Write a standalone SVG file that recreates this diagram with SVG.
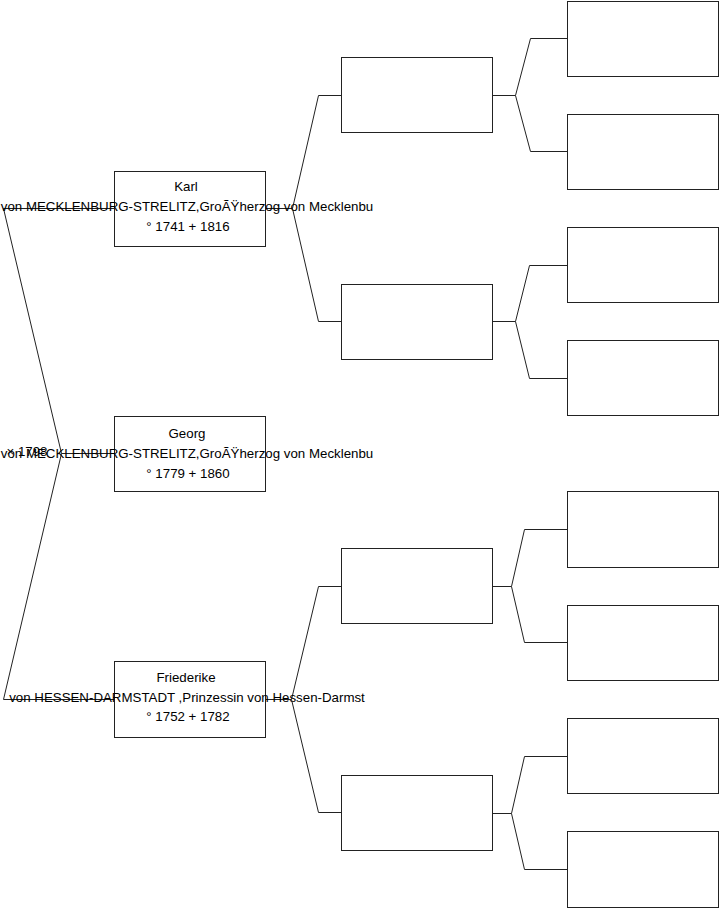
<svg xmlns="http://www.w3.org/2000/svg" width="719" height="908" viewBox="0 0 719 908">
<style>
rect.b{fill:#fff;stroke:#222;stroke-width:1}
.c path{fill:none;stroke:#222;stroke-width:1}
text{font-family:"Liberation Sans",Arial,sans-serif;font-size:13.3px;fill:#000;text-anchor:middle}
</style>
<rect width="719" height="908" fill="#fff"/>
<g id="nodes-back">
<g id="n-karl"><rect class="b" x="114.5" y="171.5" width="151" height="75"/></g>
<g id="n-georg"><rect class="b" x="114.5" y="416.5" width="151" height="75"/></g>
<g id="n-friederike"><rect class="b" x="114.5" y="661.5" width="151" height="76"/></g>
<g id="n-2a"><rect class="b" x="341.5" y="57.5" width="151" height="75"/></g>
<g id="n-2b"><rect class="b" x="341.5" y="284.5" width="151" height="75"/></g>
<g id="n-2c"><rect class="b" x="341.5" y="548.5" width="151" height="75"/></g>
<g id="n-2d"><rect class="b" x="341.5" y="775.5" width="151" height="75"/></g>
<g id="n-3a"><rect class="b" x="567.5" y="1.5" width="151" height="75"/></g>
<g id="n-3b"><rect class="b" x="567.5" y="114.5" width="151" height="75"/></g>
<g id="n-3c"><rect class="b" x="567.5" y="227.5" width="151" height="75"/></g>
<g id="n-3d"><rect class="b" x="567.5" y="340.5" width="151" height="75"/></g>
<g id="n-3e"><rect class="b" x="567.5" y="491.5" width="151" height="76"/></g>
<g id="n-3f"><rect class="b" x="567.5" y="605.5" width="151" height="75"/></g>
<g id="n-3g"><rect class="b" x="567.5" y="718.5" width="151" height="75"/></g>
<g id="n-3h"><rect class="b" x="567.5" y="831.5" width="151" height="76"/></g>
</g>
<g id="connectors" class="c">
<path d="M114 208.5H3.5L61.5 453.5H114"/>
<path d="M114 699.5H3.5L61.5 453.5"/>
<path d="M265 208.5H292.5L318.5 95.5H341"/>
<path d="M292.5 208.5L318.5 321.5H341"/>
<path d="M265 699.5H291.5L318.5 586.5H341"/>
<path d="M291.5 699.5L318.5 812.5H341"/>
<path d="M492 95.5H515.5L530.5 38.5H567"/>
<path d="M515.5 95.5L530.5 151.5H567"/>
<path d="M492 321.5H515.5L529.5 265.5H567"/>
<path d="M515.5 321.5L529.5 378.5H567"/>
<path d="M492 586.5H511.5L524.5 529.5H567"/>
<path d="M511.5 586.5L524.5 642.5H567"/>
<path d="M492 813.5H511.5L524.5 756.5H567"/>
<path d="M511.5 813.5L524.5 869.5H567"/>
</g>
<g id="labels">
<g id="t-karl">
<text x="186" y="191">Karl</text>
<text x="187" y="211">von MECKLENBURG-STRELITZ,GroÃŸherzog von Mecklenbu</text>
<text x="188" y="231">° 1741 + 1816</text>
</g>
<g id="t-georg">
<text x="187" y="438">Georg</text>
<text x="187" y="458">von MECKLENBURG-STRELITZ,GroÃŸherzog von Mecklenbu</text>
<text x="188" y="478">° 1779 + 1860</text>
<text x="27" y="456">× 1798</text>
</g>
<g id="t-friederike">
<text x="186" y="682">Friederike</text>
<text x="187" y="702">von HESSEN-DARMSTADT ,Prinzessin von Hessen-Darmst</text>
<text x="188" y="721">° 1752 + 1782</text>
</g>
</g>
</svg>
